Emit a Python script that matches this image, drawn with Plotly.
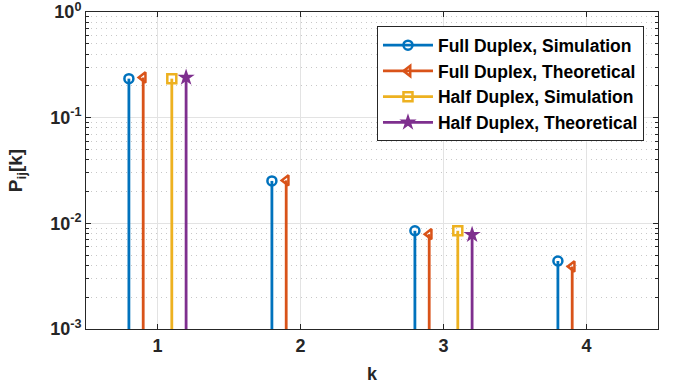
import plotly.graph_objects as go

# ---- data ----
series_names = ["Full Duplex, Simulation", "Full Duplex, Theoretical",
                "Half Duplex, Simulation", "Half Duplex, Theoretical"]
k_fd = [1, 2, 3, 4]
k_hd = [1, 3]
fd_sim = [0.234, 0.0252, 0.0085, 0.0044]
fd_theo = [0.240, 0.0255, 0.0079, 0.0039]
hd_sim = [0.234, 0.0085]
hd_theo = [0.240, 0.0078]
x_ticks = [1, 2, 3, 4]
y_tickvals = [1e-3, 1e-2, 1e-1, 1e0]
y_ticktext = ["10<sup>-3</sup>", "10<sup>-2</sup>", "10<sup>-1</sup>", "10<sup>0</sup>"]

# ---- style ----
colors = ["#0072BD", "#D95319", "#EDB120", "#7E2F8E"]
symbols = ["circle-open", "triangle-left-open", "square-open", "star"]
offsets = [-0.2, -0.1, 0.1, 0.2]
base = 1e-3
FONT = "Liberation Sans, Arial, sans-serif"
AX = "#262626"

fig = go.Figure()
all_series = [(k_fd, fd_sim), (k_fd, fd_theo), (k_hd, hd_sim), (k_hd, hd_theo)]
for i, (ks, vals) in enumerate(all_series):
    xs, ys = [], []
    for k, v in zip(ks, vals):
        xs += [k + offsets[i], k + offsets[i], None]
        ys += [base, v, None]
    fig.add_trace(go.Scatter(x=xs, y=ys, mode="lines",
                             line=dict(color=colors[i], width=2.8),
                             showlegend=False, hoverinfo="skip"))
    mk = dict(color=colors[i], symbol=symbols[i], size=9 if i < 3 else 13,
              line=dict(color=colors[i], width=2.5 if i < 3 else 0))
    fig.add_trace(go.Scatter(x=[k + offsets[i] for k in ks], y=vals, mode="markers",
                             marker=mk, showlegend=False))
    fig.add_trace(go.Scatter(x=[None], y=[None], mode="lines+markers",
                             line=dict(color=colors[i], width=2.8),
                             marker=mk, name=series_names[i]))

fig.update_layout(
    width=677, height=388,
    margin=dict(l=86, r=19, t=12, b=59),
    plot_bgcolor="white", paper_bgcolor="white",
    font=dict(family=FONT, color=AX),
    legend=dict(x=0.9755, y=0.955, xanchor="right", yanchor="top",
                bgcolor="white", bordercolor=AX, borderwidth=1,
                font=dict(family=FONT, size=17.5, color="black", weight="bold"),
                itemwidth=50),
)
fig.update_xaxes(
    range=[0.5, 4.5], tickvals=x_ticks, automargin=False, ticklabeloverflow="allow",
    showline=True, linecolor=AX, linewidth=1, mirror="allticks",
    ticks="inside", ticklen=5, tickcolor=AX,
    showgrid=True, gridcolor="#e3e3e3", gridwidth=1, zeroline=False,
    tickfont=dict(family=FONT, size=18, weight="bold", color=AX),
    title=dict(text="k", font=dict(family=FONT, size=18, weight="bold", color=AX), standoff=12),
)
fig.update_yaxes(
    type="log", range=[-3, 0], tickvals=y_tickvals, ticktext=y_ticktext,
    automargin=False, ticklabeloverflow="allow",
    showline=True, linecolor=AX, linewidth=1, mirror="allticks",
    ticks="inside", ticklen=5, tickcolor=AX,
    showgrid=True, gridcolor="#e3e3e3", gridwidth=1, zeroline=False,
    minor=dict(dtick="D1", ticks="inside", ticklen=3, tickcolor=AX,
               showgrid=True, gridcolor="#c8c8c8", griddash="1px,4px", gridwidth=1),
    tickfont=dict(family=FONT, size=18, weight="bold", color=AX),
    title=dict(text="P<sub>ij</sub>[k]", font=dict(family=FONT, size=19, weight="bold", color=AX), standoff=22),
)

fig.write_html("out.html")
